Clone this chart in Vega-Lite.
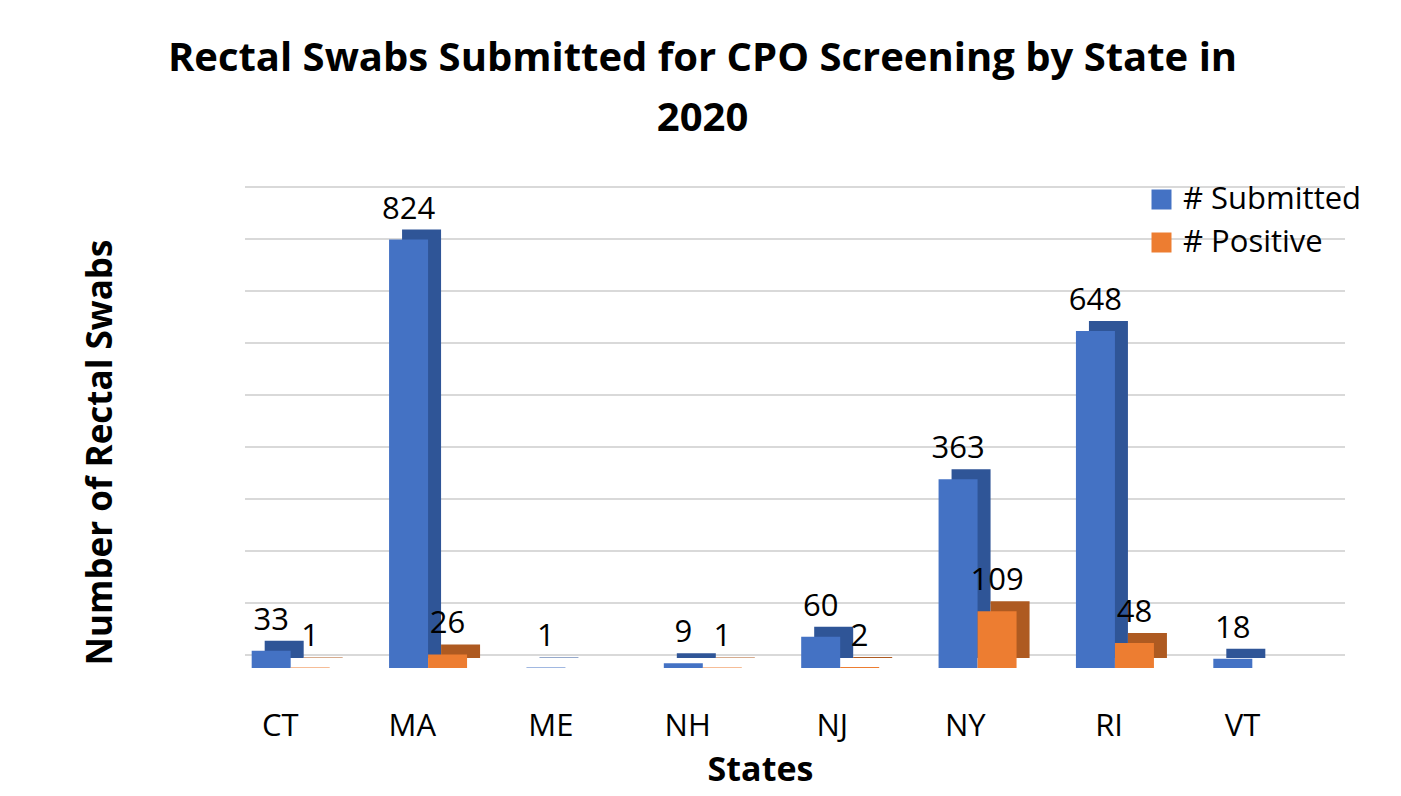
{
  "$schema": "https://vega.github.io/schema/vega-lite/v6.json",
  "autosize": {"type": "none"},
  "width": 1099,
  "height": 468,
  "padding": {"left": 222, "top": 200, "right": 80, "bottom": 128},
  "background": "white",
  "config": {
    "view": {"stroke": null},
    "font": "Open Sans"
  },
  "title": {
    "text": ["Rectal Swabs Submitted for CPO Screening by State in", "2020"],
    "fontSize": 40,
    "fontWeight": "bold",
    "font": "Open Sans",
    "color": "#000000",
    "lineHeight": 60,
    "anchor": "middle",
    "frame": "bounds",
    "offset": 45,
    "dx": -20
  },
  "datasets": {
    "swabs": [
      {"state": "CT", "series": "# Submitted", "value": 33},
      {"state": "CT", "series": "# Positive", "value": 1},
      {"state": "MA", "series": "# Submitted", "value": 824},
      {"state": "MA", "series": "# Positive", "value": 26},
      {"state": "ME", "series": "# Submitted", "value": 1},
      {"state": "NH", "series": "# Submitted", "value": 9},
      {"state": "NH", "series": "# Positive", "value": 1},
      {"state": "NJ", "series": "# Submitted", "value": 60},
      {"state": "NJ", "series": "# Positive", "value": 2},
      {"state": "NY", "series": "# Submitted", "value": 363},
      {"state": "NY", "series": "# Positive", "value": 109},
      {"state": "RI", "series": "# Submitted", "value": 648},
      {"state": "RI", "series": "# Positive", "value": 48},
      {"state": "VT", "series": "# Submitted", "value": 18}
    ],
    "grid": [
      {"g": 0}, {"g": 100}, {"g": 200}, {"g": 300}, {"g": 400},
      {"g": 500}, {"g": 600}, {"g": 700}, {"g": 800}, {"g": 900}
    ]
  },
  "encoding": {
    "y": {"type": "quantitative", "scale": {"domain": [0, 900], "nice": false}}
  },
  "layer": [
    {
      "data": {"name": "grid"},
      "mark": {"type": "rule", "color": "#D9D9D9", "strokeWidth": 2, "xOffset": 23, "x2Offset": 24, "yOffset": -13},
      "encoding": {
        "x": {"value": 0},
        "x2": {"value": "width"},
        "y": {
          "field": "g", "type": "quantitative", "scale": {"domain": [0, 900], "nice": false},
          "axis": {"title": "Number of Rectal Swabs", "titleFontSize": 35, "titleFontWeight": "bold", "titleColor": "#000000", "titlePadding": 104, "titleY": 252, "labels": false, "ticks": false, "domain": false, "grid": false}
        }
      }
    },
    {
      "data": {"name": "swabs"},
      "transform": [{"filter": "datum.series === '# Submitted'"}],
      "mark": {"type": "bar", "width": 39, "xOffset": -6.5, "yOffset": -10, "y2Offset": -10, "color": "#2F5597"},
      "encoding": {
        "x": {"field": "state", "type": "nominal", "sort": ["CT","MA","ME","NH","NJ","NY","RI","VT"], "scale": {"paddingInner": 0.432, "paddingOuter": 0.216}},
        "y": {"field": "value", "type": "quantitative"}
      }
    },
    {
      "data": {"name": "swabs"},
      "transform": [{"filter": "datum.series === '# Positive'"}],
      "mark": {"type": "bar", "width": 39, "xOffset": 32.5, "yOffset": -10, "y2Offset": -10, "color": "#AE5A21"},
      "encoding": {
        "x": {"field": "state", "type": "nominal", "sort": ["CT","MA","ME","NH","NJ","NY","RI","VT"]},
        "y": {"field": "value", "type": "quantitative"}
      }
    },
    {
      "data": {"name": "swabs"},
      "transform": [{"filter": "datum.series === '# Submitted'"}],
      "mark": {"type": "bar", "width": 39, "xOffset": -19.5},
      "encoding": {
        "x": {
          "field": "state", "type": "nominal", "sort": ["CT","MA","ME","NH","NJ","NY","RI","VT"],
          "axis": {"title": "States", "titleFontSize": 34, "titleFontWeight": "bold", "titleColor": "#000000", "titlePadding": 12, "titleX": 538, "labelFontSize": 31, "labelColor": "#000000", "labelPadding": 58, "labelOffset": 8, "labelAngle": 0, "ticks": false, "domain": false, "grid": false}
        },
        "y": {"field": "value", "type": "quantitative"},
        "color": {
          "field": "series", "type": "nominal",
          "scale": {"domain": ["# Submitted", "# Positive"], "range": ["#4472C4", "#ED7D31"]},
          "legend": {"title": null, "orient": "none", "legendX": 924, "legendY": -16, "symbolType": "square", "symbolSize": 400, "symbolStrokeWidth": 0, "labelFontSize": 31, "labelColor": "#000000", "labelLimit": 400, "rowPadding": 11, "labelOffset": 6}
        }
      }
    },
    {
      "data": {"name": "swabs"},
      "transform": [{"filter": "datum.series === '# Positive'"}],
      "mark": {"type": "bar", "width": 39, "xOffset": 19.5},
      "encoding": {
        "x": {"field": "state", "type": "nominal", "sort": ["CT","MA","ME","NH","NJ","NY","RI","VT"]},
        "y": {"field": "value", "type": "quantitative"},
        "color": {"field": "series", "type": "nominal"}
      }
    },
    {
      "data": {"name": "swabs"},
      "transform": [{"filter": "datum.series === '# Submitted'"}],
      "mark": {"type": "text", "baseline": "alphabetic", "dy": -21, "dx": -19.5, "fontSize": 31, "color": "#000000"},
      "encoding": {
        "x": {"field": "state", "type": "nominal", "sort": ["CT","MA","ME","NH","NJ","NY","RI","VT"]},
        "y": {"field": "value", "type": "quantitative"},
        "text": {"field": "value", "type": "quantitative"}
      }
    },
    {
      "data": {"name": "swabs"},
      "transform": [{"filter": "datum.series === '# Positive'"}],
      "mark": {"type": "text", "baseline": "alphabetic", "dy": -21, "dx": 19.5, "fontSize": 31, "color": "#000000"},
      "encoding": {
        "x": {"field": "state", "type": "nominal", "sort": ["CT","MA","ME","NH","NJ","NY","RI","VT"]},
        "y": {"field": "value", "type": "quantitative"},
        "text": {"field": "value", "type": "quantitative"}
      }
    }
  ]
}
